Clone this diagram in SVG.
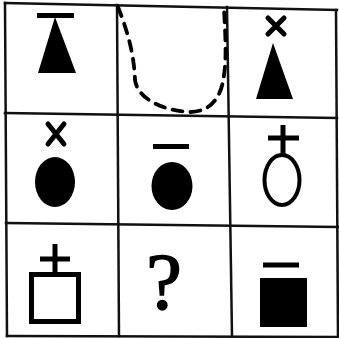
<svg xmlns="http://www.w3.org/2000/svg" width="339" height="338" viewBox="0 0 339 338">
<style>
.grid{stroke:#111;stroke-width:2.5;fill:none;stroke-linecap:square}
.fill{fill:#000}
.thick{stroke:#000;stroke-width:5;fill:none}
.x{stroke:#000;stroke-width:5;fill:none;stroke-linecap:round}
.dash{stroke:#000;stroke-width:3.8;fill:none;stroke-dasharray:10 8;stroke-linecap:round}
</style>
<rect width="339" height="338" fill="#fff"/>
<g id="grid">
<line class="grid" x1="5" y1="3" x2="337" y2="10"/>
<line class="grid" x1="5" y1="113" x2="337" y2="118"/>
<line class="grid" x1="6" y1="223" x2="338" y2="227"/>
<line class="grid" x1="7" y1="336" x2="338" y2="337"/>
<line class="grid" x1="5" y1="3" x2="7" y2="336"/>
<line class="grid" x1="117" y1="5" x2="119" y2="336"/>
<line class="grid" x1="227" y1="7" x2="232" y2="336"/>
<line class="grid" x1="336" y1="10" x2="338" y2="337"/>
</g>
<g id="cell-1-1">
<rect class="fill" x="37" y="13" width="37" height="5"/>
<polygon class="fill" points="55,17 38,73 76,73"/>
</g>
<g id="cell-1-2">
<path class="dash" d="M118,7 C125,25 134,50 135,80 C138,100 165,111 190,112 C212,112 222,95 224,75 C227,55 225,30 224,8"/>
</g>
<g id="cell-1-3">
<path class="x" d="M268,18 L284,34 M284,18 L268,34"/>
<polygon class="fill" points="273,43 256,99 293,99"/>
</g>
<g id="cell-2-1">
<path class="x" d="M48,124 L64,144 M64,124 L48,144"/>
<ellipse class="fill" cx="55" cy="182" rx="20" ry="25"/>
</g>
<g id="cell-2-2">
<rect class="fill" x="153" y="144" width="36" height="5"/>
<ellipse class="fill" cx="172" cy="186" rx="20.5" ry="24"/>
</g>
<g id="cell-2-3">
<path class="thick" d="M268,138 L299,138 M283,125 L283,154"/>
<ellipse cx="282" cy="180" rx="17.5" ry="25" fill="none" stroke="#000" stroke-width="4"/>
</g>
<g id="cell-3-1">
<path class="thick" d="M40,259 L70,259 M55,244 L55,274"/>
<rect class="thick" x="31.5" y="274.5" width="47" height="47"/>
</g>
<g id="cell-3-2">
<text x="164" y="309" font-family="'Liberation Serif', serif" font-size="80" text-anchor="middle" fill="#000" stroke="#000" stroke-width="1.5">?</text>
</g>
<g id="cell-3-3">
<rect class="fill" x="263" y="262.5" width="36" height="5"/>
<rect class="fill" x="260" y="278" width="47" height="49"/>
</g>
</svg>
